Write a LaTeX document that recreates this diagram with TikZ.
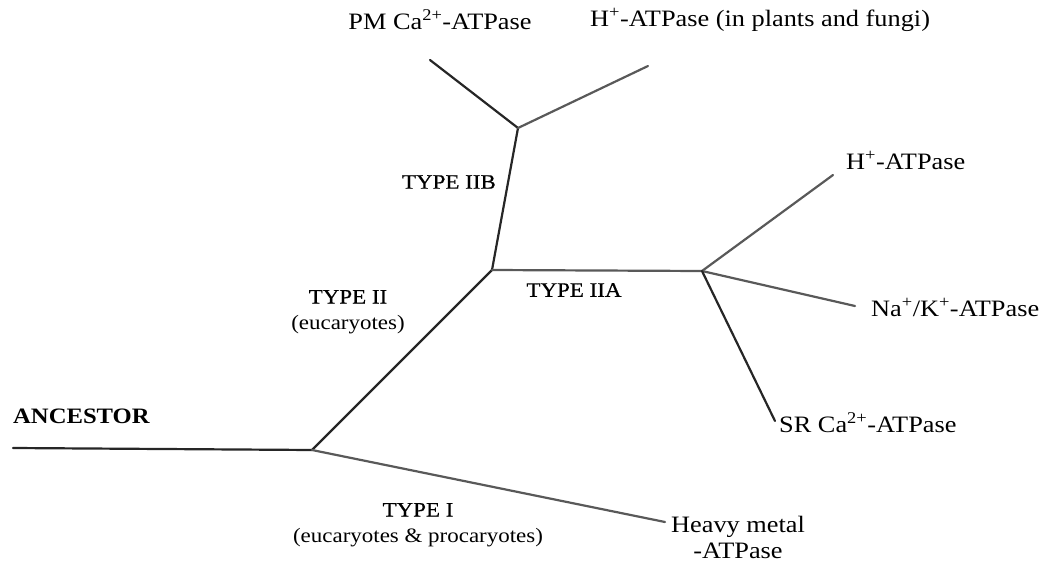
\documentclass[tikz,border=0pt]{standalone}
\usepackage{fontspec}
\setmainfont{Liberation Serif}[FakeStretch=1.12]
\newfontfamily\typefont{Liberation Serif}[FakeStretch=1.12,FakeBold=0.5]
\begin{document}
\begin{tikzpicture}[x=1pt,y=-1pt,
  branch/.style={draw=black!85,line width=2.2pt,line cap=round,line join=round},
  palebranch/.style={draw=black!65,line width=2.2pt,line cap=round},
  leaf/.style={font=\fontsize{23.5}{26}\selectfont,inner sep=0pt},
  grouplabel/.style={font=\fontsize{20.5}{26}\selectfont,align=center,inner sep=0pt}]
\useasboundingbox (0,0) rectangle (1045,562);
% tree vertices
\coordinate (start) at (13,448);
\coordinate (root) at (312,450);
\coordinate (t2) at (492,270);
\coordinate (t2b) at (518,128);
\coordinate (pmtip) at (430,60);
\coordinate (hptip) at (648,66);
\coordinate (t2a) at (702,271);
\coordinate (hatip) at (833,175);
\coordinate (naktip) at (855,306);
\coordinate (srtip) at (775,421);
\coordinate (hmtip) at (665,522);
% branches
\draw[branch] (start) -- (root);
\draw[branch] (root) -- (t2);
\draw[palebranch] (root) -- (hmtip);
\draw[branch] (t2) -- (t2b);
\draw[branch] (t2b) -- (pmtip);
\draw[palebranch] (t2b) -- (hptip);
\draw[palebranch] (t2) -- (t2a);
\draw[palebranch] (t2a) -- (hatip);
\draw[palebranch] (t2a) -- (naktip);
\draw[branch] (t2a) -- (srtip);
% leaf labels
\node[leaf] (pmca) at (440,20) {PM Ca\textsuperscript{2+}-ATPase};
\node[leaf,anchor=west] (hplant) at (590,20) {H\textsuperscript{+}-ATPase (in plants and fungi)};
\node[leaf,anchor=west] (hatp) at (846,160) {H\textsuperscript{+}-ATPase};
\node[leaf,anchor=west] (nak) at (871,307) {Na\textsuperscript{+}/K\textsuperscript{+}-ATPase};
\node[leaf,anchor=west] (srca) at (779,423) {SR Ca\textsuperscript{2+}-ATPase};
\node[leaf,align=center] (heavy) at (738,537) {Heavy metal\\-ATPase};
% group labels
\node[grouplabel,font=\bfseries\fontsize{22}{24}\selectfont,anchor=west] (anc) at (13,416) {ANCESTOR};
\node[grouplabel,anchor=east] (l2b) at (496,182) {\typefont TYPE IIB};
\node[grouplabel] (l2) at (348,312) {{\typefont TYPE II}\\(eucaryotes)};
\node[grouplabel] (l2a) at (574,290) {\typefont TYPE IIA};
\node[grouplabel] (l1) at (418,525) {{\typefont TYPE I}\\(eucaryotes \& procaryotes)};
\end{tikzpicture}
\end{document}
